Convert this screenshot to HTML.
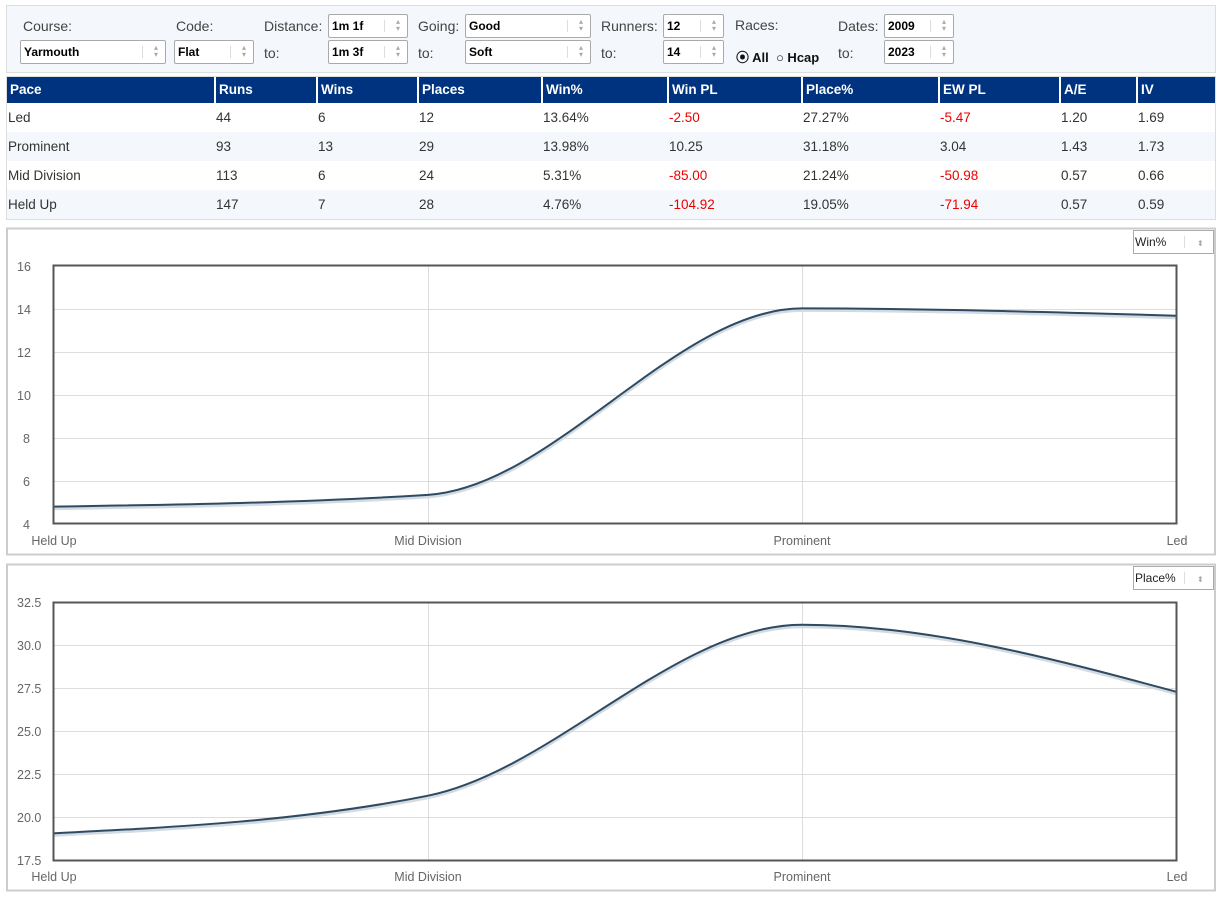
<!DOCTYPE html>
<html><head><meta charset="utf-8"><style>
*{box-sizing:border-box;margin:0;padding:0}
body{width:1226px;height:898px;background:#fff;font-family:"Liberation Sans",Arial,sans-serif;font-size:13px;color:#333;position:relative;overflow:hidden}
.a{position:absolute;white-space:nowrap}
.lbl{font-size:14px;color:#444}
.sel{position:absolute;height:24px;border:1px solid #aaa;border-radius:2px;background:#fff;font-weight:bold;font-size:12px;color:#000;padding:4px 0 0 3px}
.sel:after{content:"";position:absolute;right:22px;top:5px;height:12px;border-left:1px solid #ddd}
.sel i{position:absolute;right:7px;top:3px;font-style:normal;font-size:8px;color:#aaa;line-height:7px;font-weight:normal}
.tbl{position:absolute;left:6px;top:76px;width:1210px;border:1px solid #ddd}
.row{position:relative;height:29px}
.row span{position:absolute;top:7px;font-size:13.5px}
.hd{background:#00337f;color:#fff;height:26px;font-weight:bold}
.hd span{top:5px;border-left:2px solid #fff;padding-left:3px;height:26px;top:0;padding-top:5px}
.alt{background:#f4f7fb}
.r{color:#e00}
</style></head><body>
<div class="a" style="left:6px;top:5px;width:1210px;height:68px;background:#f4f7fb;border:1px solid #ddd"></div>
<div class="a lbl" style="left:23px;top:18px">Course:</div>
<div class="sel" style="left:20px;top:40px;width:146px">Yarmouth<i>▴<br>▾</i></div>
<div class="a lbl" style="left:176px;top:18px">Code:</div>
<div class="sel" style="left:174px;top:40px;width:80px">Flat<i>▴<br>▾</i></div>
<div class="a lbl" style="left:264px;top:18px">Distance:</div>
<div class="a lbl" style="left:264px;top:45px">to:</div>
<div class="sel" style="left:328px;top:14px;width:80px">1m 1f<i>▴<br>▾</i></div>
<div class="sel" style="left:328px;top:40px;width:80px">1m 3f<i>▴<br>▾</i></div>
<div class="a lbl" style="left:418px;top:18px">Going:</div>
<div class="a lbl" style="left:418px;top:45px">to:</div>
<div class="sel" style="left:465px;top:14px;width:126px">Good<i>▴<br>▾</i></div>
<div class="sel" style="left:465px;top:40px;width:126px">Soft<i>▴<br>▾</i></div>
<div class="a lbl" style="left:601px;top:18px">Runners:</div>
<div class="a lbl" style="left:601px;top:45px">to:</div>
<div class="sel" style="left:663px;top:14px;width:61px">12<i>▴<br>▾</i></div>
<div class="sel" style="left:663px;top:40px;width:61px">14<i>▴<br>▾</i></div>
<div class="a lbl" style="left:735px;top:17px">Races:</div>
<div class="a" style="left:736px;top:47px;font-size:13px;font-weight:bold;color:#111">⦿ All &nbsp;○ Hcap</div>
<div class="a lbl" style="left:838px;top:18px">Dates:</div>
<div class="a lbl" style="left:838px;top:45px">to:</div>
<div class="sel" style="left:884px;top:14px;width:70px">2009<i>▴<br>▾</i></div>
<div class="sel" style="left:884px;top:40px;width:70px">2023<i>▴<br>▾</i></div>

<div class="tbl">
<div class="row hd"><span style="left:0;border:none">Pace</span><span style="left:207px">Runs</span><span style="left:309px">Wins</span><span style="left:410px">Places</span><span style="left:534px">Win%</span><span style="left:660px">Win PL</span><span style="left:794px">Place%</span><span style="left:931px">EW PL</span><span style="left:1052px">A/E</span><span style="left:1129px">IV</span></div>
<div class="row"><span style="left:1px">Led</span><span style="left:209px">44</span><span style="left:311px">6</span><span style="left:412px">12</span><span style="left:536px">13.64%</span><span class="r" style="left:662px">-2.50</span><span style="left:796px">27.27%</span><span class="r" style="left:933px">-5.47</span><span style="left:1054px">1.20</span><span style="left:1131px">1.69</span></div>
<div class="row alt"><span style="left:1px">Prominent</span><span style="left:209px">93</span><span style="left:311px">13</span><span style="left:412px">29</span><span style="left:536px">13.98%</span><span style="left:662px">10.25</span><span style="left:796px">31.18%</span><span style="left:933px">3.04</span><span style="left:1054px">1.43</span><span style="left:1131px">1.73</span></div>
<div class="row"><span style="left:1px">Mid Division</span><span style="left:209px">113</span><span style="left:311px">6</span><span style="left:412px">24</span><span style="left:536px">5.31%</span><span class="r" style="left:662px">-85.00</span><span style="left:796px">21.24%</span><span class="r" style="left:933px">-50.98</span><span style="left:1054px">0.57</span><span style="left:1131px">0.66</span></div>
<div class="row alt"><span style="left:1px">Held Up</span><span style="left:209px">147</span><span style="left:311px">7</span><span style="left:412px">28</span><span style="left:536px">4.76%</span><span class="r" style="left:662px">-104.92</span><span style="left:796px">19.05%</span><span class="r" style="left:933px">-71.94</span><span style="left:1054px">0.57</span><span style="left:1131px">0.59</span></div>
</div>

<svg class="a" style="left:0;top:0" width="1226" height="898" font-family="Liberation Sans,Arial,sans-serif" font-size="12.5" fill="#666">
<rect x="7" y="228.5" width="1208" height="326" fill="none" stroke="#ccc" stroke-width="2"/>
<rect x="7" y="564.5" width="1208" height="326" fill="none" stroke="#ccc" stroke-width="2"/>
<g stroke="#ddd" stroke-width="1">
<line x1="53" x2="1177" y1="309.5" y2="309.5"/><line x1="53" x2="1177" y1="352.5" y2="352.5"/><line x1="53" x2="1177" y1="395.5" y2="395.5"/><line x1="53" x2="1177" y1="438.5" y2="438.5"/><line x1="53" x2="1177" y1="481.5" y2="481.5"/>
<line x1="428.5" x2="428.5" y1="265" y2="523"/><line x1="802.5" x2="802.5" y1="265" y2="523"/>
<line x1="53" x2="1177" y1="645.5" y2="645.5"/><line x1="53" x2="1177" y1="688.5" y2="688.5"/><line x1="53" x2="1177" y1="731.5" y2="731.5"/><line x1="53" x2="1177" y1="774.5" y2="774.5"/><line x1="53" x2="1177" y1="817.5" y2="817.5"/>
<line x1="428.5" x2="428.5" y1="602" y2="860"/><line x1="802.5" x2="802.5" y1="602" y2="860"/>
</g>
<path d="M53,506.66 C178,504.69 303,502.72 428,494.84 C553,486.95 677,308.43 802,308.43 C927,308.43 1052,312.09 1177,315.74" fill="none" stroke="#d3dbe2" stroke-width="4" transform="translate(0,1.5)"/>
<path d="M53,506.66 C178,504.69 303,502.72 428,494.84 C553,486.95 677,308.43 802,308.43 C927,308.43 1052,312.09 1177,315.74" fill="none" stroke="#2e4a62" stroke-width="2"/>
<path d="M53,833.34 C178,827.06 303,820.78 428,795.67 C553,770.56 677,624.70 802,624.70 C927,624.70 1052,658.33 1177,691.96" fill="none" stroke="#d3dbe2" stroke-width="4" transform="translate(0,1.5)"/>
<path d="M53,833.34 C178,827.06 303,820.78 428,795.67 C553,770.56 677,624.70 802,624.70 C927,624.70 1052,658.33 1177,691.96" fill="none" stroke="#2e4a62" stroke-width="2"/>
<rect x="53.5" y="265.5" width="1123" height="258" fill="none" stroke="#555" stroke-width="2"/>
<rect x="53.5" y="602.5" width="1123" height="258" fill="none" stroke="#555" stroke-width="2"/>
<g>
<text x="17" y="271">16</text><text x="17" y="314">14</text><text x="17" y="357">12</text><text x="17" y="400">10</text><text x="23" y="443">8</text><text x="23" y="486">6</text><text x="23" y="529">4</text>
<text x="17" y="607">32.5</text><text x="17" y="650">30.0</text><text x="17" y="693">27.5</text><text x="17" y="736">25.0</text><text x="17" y="779">22.5</text><text x="17" y="822">20.0</text><text x="17" y="865">17.5</text>
</g>
<g text-anchor="middle">
<text x="54" y="545">Held Up</text><text x="428" y="545">Mid Division</text><text x="802" y="545">Prominent</text><text x="1177" y="545">Led</text>
<text x="54" y="881">Held Up</text><text x="428" y="881">Mid Division</text><text x="802" y="881">Prominent</text><text x="1177" y="881">Led</text>
</g>
<rect x="1133.5" y="230.5" width="80" height="23" fill="#fff" stroke="#aaa"/>
<text x="1135" y="246" fill="#222" font-size="12">Win%</text>
<line x1="1184.5" x2="1184.5" y1="236" y2="248" stroke="#ddd"/>
<text x="1197" y="246" fill="#aaa" font-size="8">⬍</text>
<rect x="1133.5" y="566.5" width="80" height="23" fill="#fff" stroke="#aaa"/>
<text x="1135" y="582" fill="#222" font-size="12">Place%</text>
<line x1="1184.5" x2="1184.5" y1="572" y2="584" stroke="#ddd"/>
<text x="1197" y="582" fill="#aaa" font-size="8">⬍</text>
</svg>
</body></html>
